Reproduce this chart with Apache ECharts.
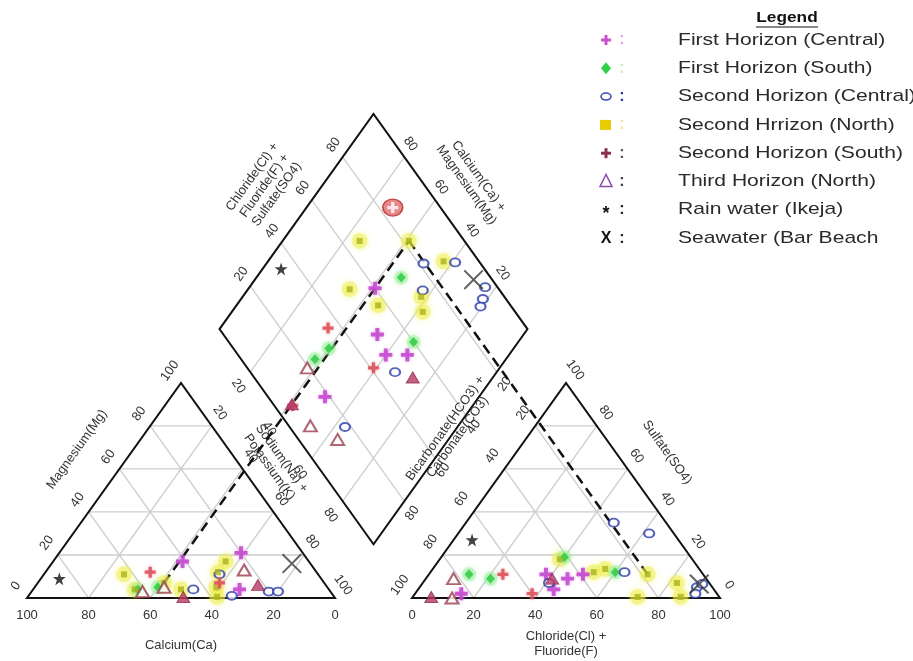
<!DOCTYPE html>
<html>
<head>
<meta charset="utf-8">
<title>Piper diagram</title>
<script src="https://cdn.jsdelivr.net/npm/echarts@6/dist/echarts.min.js"></script>
<style>
html, body { margin: 0; padding: 0; background: #fff; }
#chart { width: 913px; height: 661px; }
</style>
</head>
<body>
<div id="chart"></div>
<script>
// ---------- Sample compositions (% of meq/L) ----------
// Cation triangle: [Ca, Mg]  (Na + K is the remainder)
const cationFirstCentral  = [[41, 17], [20, 21], [29, 4]];
const cationFirstSouth    = [[62, 4], [55, 5]];
const cationSecondCentral = [[44, 4], [33, 1], [20, 3], [17, 3], [32, 11]];
const cationSecondNorth   = [[63, 11], [63, 4], [48, 4], [27, 17], [32, 12], [36, 5], [38, 0.5]];
const cationSecondSouth   = [[54, 12], [34, 7]];
const cationThirdNorth    = [[61, 3], [53, 5], [23, 13]];
const cationThirdSolid    = [[22, 6], [49, 0.5]];
const cationRain          = [[85, 9]];
const cationSea           = [[6, 16]];

// Anion triangle: [Cl + F, SO4]  (HCO3 + CO3 is the remainder)
const anionFirstCentral  = [[15, 2], [38, 11], [46, 9], [50, 11], [44, 4]];
const anionFirstSouth    = [[13, 11], [21, 9], [40, 19], [60, 12]];
const anionSecondCentral = [[41, 7], [63, 12], [48, 35], [62, 30], [90, 5], [91, 6.5], [91, 2]];
const anionSecondNorth   = [[39, 18], [53, 12], [56, 13.5], [73, 0.5], [87, 0.5], [82.5, 7]];
const anionSecondSouth   = [[24, 11], [38, 2]];
const anionThirdNorth    = [[9, 9], [13, 0]];
const anionThirdSolid    = [[6, 0.5], [41, 9]];
const anionRain          = [[6, 27]];
const anionSea           = [[90, 6.5]];

// Central diamond: [Ca + Mg, Cl + F + SO4]
const diamondFirstCentral  = [[59, 60], [47.5, 50], [40, 48], [33, 55], [50, 18.5]];
const diamondFirstSouth    = [[53, 71], [34, 60], [60, 31], [62, 24]];
const diamondSecondCentral = [[33, 47], [36.5, 18], [49, 81.5], [39, 92], [43, 75], [23.5, 96], [21.5, 92.5], [20.5, 90]];
const diamondSecondNorth   = [[75, 66], [43, 88.5], [67, 51.5], [54, 57], [42, 73], [38, 70]];
const diamondSecondSouth   = [[65, 35.5], [41, 41], [58.5, 6]];
const diamondThirdNorth    = [[62.5, 19.5], [48, 7], [36, 12.7]];
const diamondThirdSolid    = [[26, 51.5], [59, 6]];
const diamondRain          = [[94, 34]];
const diamondSea           = [[29, 94]];
const diamondCircled       = [[72, 84.5]];

// Sample traced across the three fields: cation [Ca, Mg], anion [Cl + F, SO4]
const traceCation = [52, 7];
const traceAnion  = [71, 11];

const groupNames = [
  'First Horizon (Central)',
  'First Horizon (South)',
  'Second Horizon (Central)',
  'Second Hrrizon (North)',
  'Second Horizon (South)',
  'Third Horizon (North)',
  'Rain water (Ikeja)',
  'Seawater (Bar Beach'
];

const tickValues  = [0, 20, 40, 60, 80, 100];
const innerValues = [20, 40, 60, 80];

// ---------- Piper geometry (unit triangle side = 100) ----------
const S3 = Math.sqrt(3) / 2;
const GAP = 25;               // spacing between the two triangles
const RX = 100 + GAP;         // x offset of the anion triangle
function cat(ca, mg) { const na = 100 - ca - mg; return [na + mg / 2, mg * S3]; }
function an(cl, so4) { return [RX + cl + so4 / 2, so4 * S3]; }
function dia(cm, cs) { return [100 + GAP / 2 + (cs - cm) / 2, GAP * S3 + (cs + cm) * S3]; }

const FONT = '"Liberation Sans", Arial, sans-serif';
const TICK_FONT = '13px ' + FONT;
const TITLE_FONT = '13px ' + FONT;

const PLUS  = 'path://M3.5,0H6.5V3.5H10V6.5H6.5V10H3.5V6.5H0V3.5H3.5Z';
const CROSS = 'path://M0,0.7L0.7,0L10,9.3L9.3,10Z M9.3,0L10,0.7L0.7,10L0,9.3Z';
const STAR  = 'path://M5,0L6.18,3.6L10,3.6L6.9,5.9L8.1,9.5L5,7.3L1.9,9.5L3.1,5.9L0,3.6L3.82,3.6Z';

function renderFrame(params, api) {
  const C = p => api.coord(p);
  const kids = [];
  const seg = (a, b, st) => {
    const p = C(a), q = C(b);
    kids.push({ type: 'line', shape: { x1: p[0], y1: p[1], x2: q[0], y2: q[1] }, style: st });
  };
  const poly = (list, st) => kids.push({ type: 'polygon', shape: { points: list.map(C) }, style: st });
  const label = (pt, dx, dy, text, rot, font) => {
    const p = C(pt);
    kids.push({
      type: 'text', x: p[0] + dx, y: p[1] + dy, rotation: rot || 0,
      style: { text: String(text), font: font || TICK_FONT, fill: '#333', align: 'center', verticalAlign: 'middle', lineHeight: 15 }
    });
  };
  const a0 = C([0, 0]), a1 = C([50, 100 * S3]);
  const ang = Math.atan2(a0[1] - a1[1], a1[0] - a0[0]);

  const gs = { stroke: '#cdcdcd', lineWidth: 1.3, fill: 'none' };
  innerValues.forEach(v => {
    seg(cat(100 - v, v), cat(0, v), gs);
    seg(cat(100 - v, 0), cat(0, 100 - v), gs);
    seg(cat(v, 0), cat(v, 100 - v), gs);
    seg(an(0, v), an(100 - v, v), gs);
    seg(an(v, 0), an(v, 100 - v), gs);
    seg(an(100 - v, 0), an(0, 100 - v), gs);
    seg(dia(0, v), dia(100, v), gs);
    seg(dia(v, 0), dia(v, 100), gs);
  });

  const os = { stroke: '#111', lineWidth: 2, fill: 'none' };
  poly([cat(100, 0), cat(0, 0), cat(0, 100)], os);
  poly([an(0, 0), an(100, 0), an(0, 100)], os);
  poly([dia(0, 0), dia(100, 0), dia(100, 100), dia(0, 100)], os);

  // tick labels
  tickValues.forEach(v => label(cat(v, 0), 0, 17, v));
  tickValues.forEach(v => label(cat(100 - v, v), -11, -12, v, ang));
  tickValues.slice(1).forEach(v => label(cat(0, 100 - v), 8, -13, v, -ang));
  tickValues.forEach(v => label(an(v, 0), 0, 17, v));
  tickValues.slice(1).forEach(v => label(an(0, 100 - v), -12, -13, v, ang));
  tickValues.forEach(v => label(an(100 - v, v), 9, -13, v, -ang));
  innerValues.forEach(v => label(dia(100, v), -9, -12, v, ang));
  innerValues.forEach(v => label(dia(v, 100), 6, -13, v, -ang));
  innerValues.forEach(v => label(dia(100 - v, 0), -12, 14, v, -ang));
  innerValues.forEach(v => label(dia(0, 100 - v), 8, 12, v, ang));

  // axis titles
  label(cat(50, 0), 0, 47, 'Calcium(Ca)', 0, TITLE_FONT);
  label(an(50, 0), 0, 46, 'Chloride(Cl) +\nFluoride(F)', 0, TITLE_FONT);
  label(cat(50, 50), -27, -41, 'Magnesium(Mg)', ang, TITLE_FONT);
  label(an(50, 50), 24, -38, 'Sulfate(SO4)', -ang, TITLE_FONT);
  label(dia(50, 0), -21, 26, 'Sodium(Na) +\nPotassium(K)', -ang, TITLE_FONT);
  label(dia(0, 50), 1, -4, 'Bicarbonate(HCO3) +\nCarbonate(CO3)', ang, TITLE_FONT);
  label(dia(100, 50), -32, -36, 'Chloride(Cl) +\nFluoride(F) +\nSulfate(SO4)', ang, TITLE_FONT);
  label(dia(50, 100), 22, -41, 'Calcium(Ca) +\nMagnesium(Mg)', -ang, TITLE_FONT);

  return { type: 'group', children: kids };
}

function pts(arr, fn) { return arr.map(v => fn(v[0], v[1])); }
function all(c, a, d) { return [].concat(pts(c, cat), pts(a, an), pts(d, dia)); }

const traceCat = cat(traceCation[0], traceCation[1]);
const traceAn = an(traceAnion[0], traceAnion[1]);
const traceDia = dia(traceCation[0] + traceCation[1], traceAnion[0] + traceAnion[1]);

const groupData = [
  all(cationFirstCentral, anionFirstCentral, diamondFirstCentral),
  all(cationFirstSouth, anionFirstSouth, diamondFirstSouth),
  all(cationSecondCentral, anionSecondCentral, diamondSecondCentral),
  all(cationSecondNorth, anionSecondNorth, diamondSecondNorth).concat([traceCat, traceAn, traceDia]),
  all(cationSecondSouth, anionSecondSouth, diamondSecondSouth),
  all(cationThirdNorth, anionThirdNorth, diamondThirdNorth),
  all(cationRain, anionRain, diamondRain),
  all(cationSea, anionSea, diamondSea)
];

const markStyles = [
  { symbol: PLUS, symbolSize: 13, itemStyle: { color: '#c03dca', shadowBlur: 3, shadowColor: 'rgba(225,140,235,0.9)' } },
  { symbol: 'diamond', symbolSize: [9, 10], itemStyle: { color: '#25c83e' } },
  { symbol: 'emptyCircle', symbolSize: [10, 8], itemStyle: { color: '#2b3ca8', borderWidth: 2 } },
  { symbol: 'rect', symbolSize: 6, itemStyle: { color: '#a9b31c' } },
  { symbol: PLUS, symbolSize: 11, itemStyle: { color: '#d8474f', shadowBlur: 3, shadowColor: 'rgba(240,140,150,0.9)' } },
  { symbol: 'triangle', symbolSize: [13, 11], itemStyle: { color: '#ffffff', borderColor: '#9b3d4d', borderWidth: 2 } },
  { symbol: STAR, symbolSize: 13, itemStyle: { color: '#111' } },
  { symbol: CROSS, symbolSize: 20, itemStyle: { color: '#3a3a3a' } }
];

const series = [
  { type: 'custom', name: 'frame', coordinateSystem: 'cartesian2d', data: [[0, 0]], renderItem: renderFrame, silent: true, z: 1 },
  { type: 'line', data: [traceCat, traceDia], symbol: 'none', silent: true, z: 2, clip: false,
    lineStyle: { color: '#111', width: 2.5, type: [10, 6] } },
  { type: 'line', data: [traceAn, traceDia], symbol: 'none', silent: true, z: 2, clip: false,
    lineStyle: { color: '#111', width: 2.5, type: [10, 6] } },
  // soft halos under the yellow and green marks
  { type: 'scatter', data: groupData[3], symbol: 'circle', symbolSize: 16, silent: true, z: 3, clip: false,
    itemStyle: { color: 'rgba(238,238,70,0.62)', shadowBlur: 6, shadowColor: 'rgba(238,238,70,0.8)' } },
  { type: 'scatter', data: groupData[1], symbol: 'circle', symbolSize: 14, silent: true, z: 3, clip: false,
    itemStyle: { color: 'rgba(150,238,150,0.6)', shadowBlur: 5, shadowColor: 'rgba(150,238,150,0.85)' } }
];

groupNames.forEach((name, i) => {
  series.push(Object.assign({ type: 'scatter', name, data: groupData[i], z: 4, clip: false }, markStyles[i]));
});

series.push({ type: 'scatter', name: groupNames[5], data: all(cationThirdSolid, anionThirdSolid, diamondThirdSolid),
  symbol: 'triangle', symbolSize: [13, 11], z: 4, clip: false,
  itemStyle: { color: '#b83a68', borderColor: '#8e2e4a', borderWidth: 1 } });
series.push({ type: 'scatter', data: pts(diamondCircled, dia), symbol: 'circle', symbolSize: [20, 17], z: 4, clip: false,
  itemStyle: { color: '#e26a6a', borderColor: '#b52a2a', borderWidth: 1.5 } });
series.push({ type: 'scatter', data: pts(diamondCircled, dia), symbol: PLUS, symbolSize: 11, z: 5, clip: false,
  itemStyle: { color: '#ffffff' } });

// ---------- legend block ----------
const legendTop = 40, legendStep = 28.3;
const legendMarks = [
  y => [{ type: 'rect', shape: { x: 601, y: y - 1.5, width: 10, height: 3 }, style: { fill: '#c84fd0' } },
        { type: 'rect', shape: { x: 604.5, y: y - 5, width: 3, height: 10 }, style: { fill: '#c84fd0' } }],
  y => [{ type: 'polygon', shape: { points: [[606, y - 6], [611, y], [606, y + 6], [601, y]] }, style: { fill: '#2fd04a' } }],
  y => [{ type: 'ellipse', shape: { cx: 606, cy: y, rx: 5, ry: 3.5 }, style: { fill: 'none', stroke: '#3a4ab0', lineWidth: 1.5 } }],
  y => [{ type: 'rect', shape: { x: 600, y: y - 5, width: 11, height: 10 }, style: { fill: '#e6cc00' } }],
  y => [{ type: 'rect', shape: { x: 601, y: y - 1.5, width: 10, height: 3 }, style: { fill: '#8a3050' } },
        { type: 'rect', shape: { x: 604.5, y: y - 5, width: 3, height: 10 }, style: { fill: '#8a3050' } }],
  y => [{ type: 'polygon', shape: { points: [[606, y - 7], [600, y + 5], [612, y + 5]] }, style: { fill: 'none', stroke: '#8a4aaa', lineWidth: 1.5 } }],
  y => [{ type: 'text', x: 606, y: y + 4, style: { text: '*', font: 'bold 18px ' + FONT, fill: '#111', align: 'center', verticalAlign: 'middle' } }],
  y => [{ type: 'text', x: 606, y: y, style: { text: 'X', font: 'bold 16px ' + FONT, fill: '#111', align: 'center', verticalAlign: 'middle' } }]
];
const colonColors = ['#e2a4e6', '#c4f0c4', '#2a3a90', '#efe39a', '#555', '#444', '#222', '#222'];

const graphic = [
  { type: 'text', x: 787, y: 18, scaleX: 1.15,
    style: { text: 'Legend', font: 'bold 15px ' + FONT, fill: '#111', align: 'center', verticalAlign: 'middle' } },
  { type: 'line', shape: { x1: 756, y1: 27, x2: 818, y2: 27 }, style: { stroke: '#111', lineWidth: 1.2 } }
];
groupNames.forEach((name, i) => {
  const y = legendTop + i * legendStep;
  legendMarks[i](y).forEach(el => graphic.push(el));
  graphic.push({ type: 'text', x: 622, y: y, style: { text: ':', font: 'bold 16px ' + FONT, fill: colonColors[i], align: 'center', verticalAlign: 'middle' } });
  graphic.push({ type: 'text', x: 678, y: y, scaleX: 1.24,
    style: { text: name, font: '17px ' + FONT, fill: '#2a2a2a', align: 'left', verticalAlign: 'middle' } });
});

const chart = echarts.init(document.getElementById('chart'));
chart.setOption({
  animation: false,
  backgroundColor: '#fff',
  grid: { left: 27, right: 913 - 720, top: 114, bottom: 661 - 598 },
  xAxis: { type: 'value', min: 0, max: 200 + GAP, show: false },
  yAxis: { type: 'value', min: 0, max: (200 + GAP) * S3, show: false },
  graphic: graphic,
  series: series
});
</script>
</body>
</html>
